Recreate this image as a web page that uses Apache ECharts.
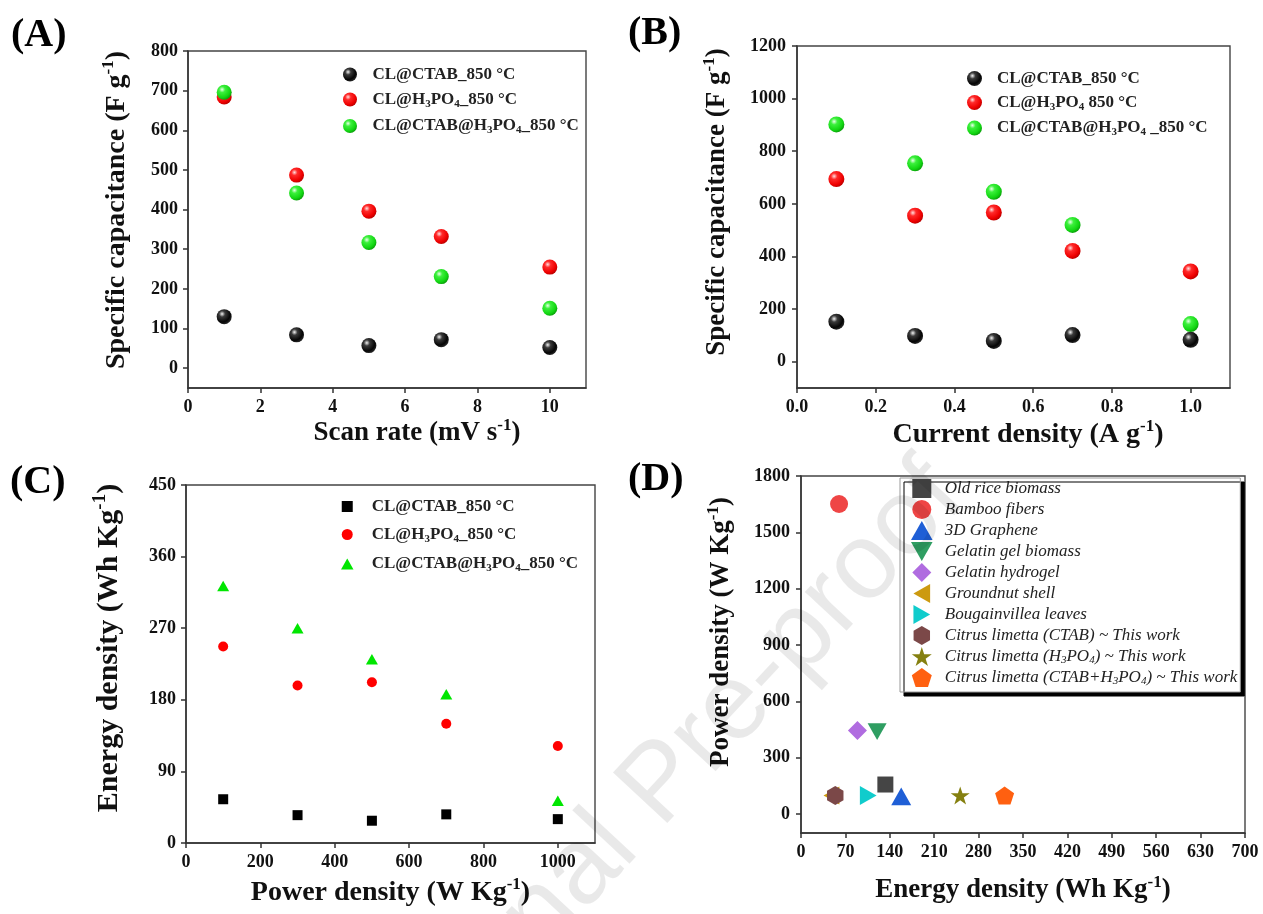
<!DOCTYPE html>
<html>
<head>
<meta charset="utf-8">
<script src="https://cdn.jsdelivr.net/npm/echarts@6/dist/echarts.min.js"></script>
<style>
html,body{margin:0;padding:0;background:#fff;}
#main{width:1263px;height:914px;}
</style>
</head>
<body>
<div id="main"></div>
<script>
// ---------- DATA ----------
// Panel A
const scanRate = [1, 3, 5, 7, 10];
const capA_CTAB = [130, 84, 57, 72, 52];
const capA_H3PO4 = [684, 487, 396, 332, 255];
const capA_Both = [696, 442, 317, 231, 151];
const ticksAx = [0, 2, 4, 6, 8, 10];
const ticksAy = [0, 100, 200, 300, 400, 500, 600, 700, 800];
// Panel B
const currentDensity = [0.1, 0.3, 0.5, 0.7, 1.0];
const capB_CTAB = [152, 98, 79, 101, 83];
const capB_H3PO4 = [694, 555, 567, 421, 343];
const capB_Both = [902, 754, 646, 520, 143];
const ticksBx = [0, 0.2, 0.4, 0.6, 0.8, 1.0];
const ticksBy = [0, 200, 400, 600, 800, 1000, 1200];
// Panel C
const powerDensity = [100, 300, 500, 700, 1000];
const enC_CTAB = [55, 35, 28, 36, 30];
const enC_H3PO4 = [247, 198, 202, 150, 122];
const enC_Both = [323, 270, 231, 187, 53];
const ticksCx = [0, 200, 400, 600, 800, 1000];
const ticksCy = [0, 90, 180, 270, 360, 450];
// Panel D
const dNames = ['Old rice biomass', 'Bamboo fibers', '3D Graphene', 'Gelatin gel biomass', 'Gelatin hydrogel',
  'Groundnut shell', 'Bougainvillea leaves', 'Citrus limetta (CTAB) ~ This work',
  'Citrus limetta (H3PO4) ~ This work', 'Citrus limetta (CTAB+H3PO4) ~ This work'];
const dEnergy = [133, 60, 158, 120, 89, 48, 106, 54, 251, 321];
const dPower = [158, 1651, 95, 440, 446, 100, 100, 100, 100, 100];
const ticksDx = [0, 70, 140, 210, 280, 350, 420, 490, 560, 630, 700];
const ticksDy = [0, 300, 600, 900, 1200, 1500, 1800];

// ---------- STYLE ----------
const FONT = '"Liberation Serif","Times New Roman",serif';
const SANS = '"Liberation Sans",Arial,sans-serif';
const AX = '#333';

function legendRich(size, italic, lh) {
  const base = {fontFamily: FONT, color: '#222'};
  if (italic) base.fontStyle = 'italic'; else base.fontWeight = 'bold';
  return {
    n: Object.assign({}, base, {fontSize: size, lineHeight: lh}),
    s: Object.assign({}, base, {fontSize: Math.round(size * 0.62), lineHeight: Math.round(size * 0.62), verticalAlign: 'bottom'})
  };
}
function titleRich(size) {
  return {
    n: {fontFamily: FONT, fontWeight: 'bold', fontSize: size, color: '#111', lineHeight: Math.round(size * 1.2)},
    p: {fontFamily: FONT, fontWeight: 'bold', fontSize: Math.round(size * 0.62), color: '#111',
      lineHeight: Math.round(size * 0.62), verticalAlign: 'top'}
  };
}

function sphere(c0, c1, c2, c3) {
  return {type: 'radial', x: 0.36, y: 0.32, r: 0.72,
    colorStops: [{offset: 0, color: c0}, {offset: 0.28, color: c1}, {offset: 0.75, color: c2}, {offset: 1, color: c3}]};
}
const blackBall = sphere('#f4f4f4', '#3a3a3a', '#050505', '#2a2a2a');
const redBall = sphere('#ffe0e0', '#ff2a2a', '#ee0000', '#b80000');
const greenBall = sphere('#eaffea', '#3cf03c', '#12d612', '#0a9c0a');

const labelOf = {
  'A1': '{n|CL@CTAB_850 °C}',
  'A2': '{n|CL@H}{s|3}{n|PO}{s|4}{n|_850 °C}',
  'A3': '{n|CL@CTAB@H}{s|3}{n|PO}{s|4}{n|_850 °C}',
  'B1': '{n|CL@CTAB_850 °C}',
  'B2': '{n|CL@H}{s|3}{n|PO}{s|4}{n| 850 °C}',
  'B3': '{n|CL@CTAB@H}{s|3}{n|PO}{s|4}{n| _850 °C}',
  'C1': '{n|CL@CTAB_850 °C}',
  'C2': '{n|CL@H}{s|3}{n|PO}{s|4}{n|_850 °C}',
  'C3': '{n|CL@CTAB@H}{s|3}{n|PO}{s|4}{n|_850 °C}'
};
const dLabel = [
  '{n|Old rice biomass}', '{n|Bamboo fibers}', '{n|3D Graphene}', '{n|Gelatin gel biomass}',
  '{n|Gelatin hydrogel}', '{n|Groundnut shell}', '{n|Bougainvillea leaves}',
  '{n|Citrus limetta (CTAB) ~ This work}',
  '{n|Citrus limetta (H}{s|3}{n|PO}{s|4}{n|) ~ This work}',
  '{n|Citrus limetta (CTAB+H}{s|3}{n|PO}{s|4}{n|) ~ This work}'
];
dNames.forEach((nm, i) => { labelOf[nm] = dLabel[i]; });

const SQUARE = 'path://M0,0 L10,0 L10,10 L0,10 Z';
const UP_TRI = 'path://M5,0 L10,8.8 L0,8.8 Z';
const dSymbols = [
  SQUARE, 'circle', UP_TRI,
  'path://M0,0 L10,0 L5,8.8 Z',
  'path://M5,0 L10,5 L5,10 L0,5 Z',
  'path://M0,5 L8.8,0 L8.8,10 Z',
  'path://M0,0 L8.8,5 L0,10 Z',
  'path://M50,0 L93.3,25 L93.3,75 L50,100 L6.7,75 L6.7,25 Z',
  'path://M50,0 L61.23,34.55 L97.55,34.55 L68.16,55.9 L79.39,90.45 L50,69.1 L20.61,90.45 L31.84,55.9 L2.45,34.55 L38.77,34.55 Z',
  'path://M50,0 L97.55,34.55 L79.39,90.45 L20.61,90.45 L2.45,34.55 Z'
];
const dColors = ['#454545', '#ef4545', '#1f5fd6', '#2f9e62', '#b06ce0', '#cc9a10', '#10cccc', '#7b4848', '#858010', '#ff6010'];
const dSizes = [16, 18, 20, 19, 19, 18, 19, 19, 19, 19];

function xAxis(grid, min, max, ticks, name, fs, gap, pad, fmt) {
  return {
    type: 'value', gridIndex: grid, min: min, max: max,
    name: name, nameLocation: 'middle', nameGap: gap,
    nameTextStyle: {rich: titleRich(fs), padding: pad},
    axisLine: {show: true, onZero: false, lineStyle: {color: AX, width: 1.5}},
    axisTick: {show: true, length: 5, customValues: ticks, lineStyle: {color: AX, width: 1.5}},
    axisLabel: {customValues: ticks, margin: 10, fontFamily: FONT, fontWeight: 'bold', fontSize: 18, color: '#111',
      formatter: fmt || (v => String(v))},
    splitLine: {show: false}
  };
}
function yAxis(grid, min, max, ticks, name, fs, gap, pad, margin) {
  return {
    type: 'value', gridIndex: grid, min: min, max: max,
    name: name, nameLocation: 'middle', nameGap: gap,
    nameTextStyle: {rich: titleRich(fs), padding: pad},
    axisLine: {show: true, onZero: false, lineStyle: {color: AX, width: 1.5}},
    axisTick: {show: true, length: 5, customValues: ticks, lineStyle: {color: AX, width: 1.5}},
    axisLabel: {customValues: ticks, margin: margin, fontFamily: FONT, fontWeight: 'bold', fontSize: 18, color: '#111',
      formatter: v => String(v)},
    splitLine: {show: false}
  };
}
function pairs(xs, ys) { return xs.map((x, i) => [x, ys[i]]); }
function sc(name, grid, xs, ys, symbol, size, color) {
  return {type: 'scatter', name: name, xAxisIndex: grid, yAxisIndex: grid,
    data: pairs(xs, ys), symbol: symbol, symbolSize: size, symbolKeepAspect: true,
    itemStyle: {color: color, opacity: 1}, emphasis: {disabled: true}};
}

const series = [
  sc('A1', 0, scanRate, capA_CTAB, 'circle', 15, blackBall),
  sc('A2', 0, scanRate, capA_H3PO4, 'circle', 15, redBall),
  sc('A3', 0, scanRate, capA_Both, 'circle', 15, greenBall),
  sc('B1', 1, currentDensity, capB_CTAB, 'circle', 16, blackBall),
  sc('B2', 1, currentDensity, capB_H3PO4, 'circle', 16, redBall),
  sc('B3', 1, currentDensity, capB_Both, 'circle', 16, greenBall),
  sc('C1', 2, powerDensity, enC_CTAB, SQUARE, 10, '#000'),
  sc('C2', 2, powerDensity, enC_H3PO4, 'circle', 10, '#ff0000'),
  sc('C3', 2, powerDensity, enC_Both, UP_TRI, 12, '#00e600')
];
dNames.forEach((nm, i) => {
  series.push(sc(nm, 3, [dEnergy[i]], [dPower[i]], dSymbols[i], dSizes[i], dColors[i]));
});

function legend(names, left, top, itemW, itemH, gap, rich, extra) {
  return Object.assign({
    orient: 'vertical', left: left, top: top, itemWidth: itemW, itemHeight: itemH, itemGap: gap,
    data: names, selectedMode: false, padding: 0, symbolKeepAspect: true,
    textStyle: {rich: rich}, formatter: nm => labelOf[nm]
  }, extra || {});
}

const option = {
  animation: false,
  backgroundColor: '#fff',
  grid: [
    {left: 188, top: 51, width: 398, height: 337, show: true, borderColor: '#444', borderWidth: 1.4},
    {left: 797, top: 46, width: 433, height: 342, show: true, borderColor: '#444', borderWidth: 1.4},
    {left: 186, top: 485, width: 409, height: 358, show: true, borderColor: '#444', borderWidth: 1.4},
    {left: 801, top: 476, width: 444, height: 357, show: true, borderColor: '#444', borderWidth: 1.4}
  ],
  xAxis: [
    xAxis(0, 0, 11, ticksAx, '{n|Scan rate (mV s}{p|-1}{n|)}', 27, 25, [0, 0, 0, 60]),
    xAxis(1, 0, 1.1, ticksBx, '{n|Current density (A g}{p|-1}{n|)}', 28, 30, [0, 0, 0, 29], v => v.toFixed(1)),
    xAxis(2, 0, 1100, ticksCx, '{n|Power density (W Kg}{p|-1}{n|)}', 28, 33, 0),
    xAxis(3, 0, 700, ticksDx, '{n|Energy density (Wh Kg}{p|-1}{n|)}', 27, 41, 0)
  ],
  yAxis: [
    yAxis(0, -50, 800, ticksAy, '{n|Specific capacitance (F g}{p|-1}{n|)}', 28, 54, [0, 0, 0, 19], 10),
    yAxis(1, -100, 1200, ticksBy, '{n|Specific capacitance (F g}{p|-1}{n|)}', 27, 64, [0, 0, 0, 30], 11),
    yAxis(2, 0, 450, ticksCy, '{n|Energy density (Wh Kg}{p|-1}{n|)}', 30, 59, [0, 0, 0, 32], 10),
    yAxis(3, -100, 1800, ticksDy, '{n|Power density (W Kg}{p|-1}{n|)}', 27, 64, [0, 0, 0, 45], 11)
  ],
  legend: [
    legend(['A1', 'A2', 'A3'], 343, 66, 35, 14, 8, legendRich(17, false, 20)),
    legend(['B1', 'B2', 'B3'], 967, 70, 35, 15, 7, legendRich(17, false, 20)),
    legend(['C1', 'C2', 'C3'], 341, 498, 39, 11, 11, legendRich(17, false, 20)),
    legend(dNames, 900, 478, 36, 19, 2, legendRich(17, true, 19), {
      padding: [1, 3, 5, 11], backgroundColor: '#fff', borderColor: '#999', borderWidth: 1,
      shadowColor: '#000', shadowBlur: 0, shadowOffsetX: 4, shadowOffsetY: 4
    })
  ],
  graphic: [
    {type: 'text', left: 11, top: 16, style: {text: '(A)', font: 'bold 40px ' + FONT, fill: '#000'}},
    {type: 'text', left: 628, top: 14, style: {text: '(B)', font: 'bold 40px ' + FONT, fill: '#000'}},
    {type: 'text', left: 10, top: 463, style: {text: '(C)', font: 'bold 40px ' + FONT, fill: '#000'}},
    {type: 'text', left: 628, top: 460, style: {text: '(D)', font: 'bold 40px ' + FONT, fill: '#000'}},
    {type: 'text', x: 662, y: 785, rotation: 47 * Math.PI / 180, silent: true, z: 100,
      style: {text: 'Journal Pre-proof', font: '108px ' + SANS, fill: 'rgba(0,0,0,0.085)',
        align: 'center', verticalAlign: 'middle', textAlign: 'center', textVerticalAlign: 'middle'}}
  ],
  series: series
};

const chart = echarts.init(document.getElementById('main'), null, {renderer: 'canvas'});
chart.setOption(option);
</script>
</body>
</html>
